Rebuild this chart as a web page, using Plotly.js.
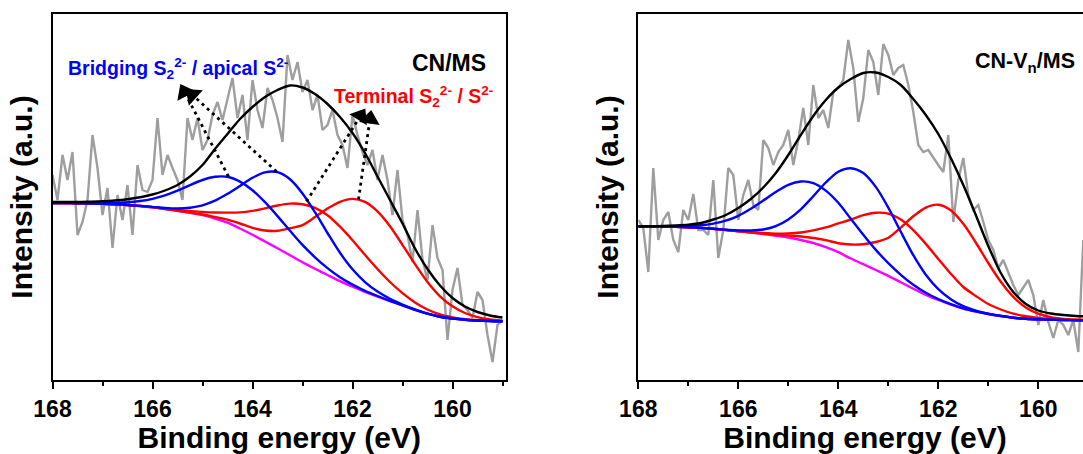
<!DOCTYPE html>
<html>
<head>
<meta charset="utf-8">
<script src="https://cdn.plot.ly/plotly-3.0.1.min.js"></script>
<style>
  html, body { margin: 0; padding: 0; background: #ffffff; overflow: hidden; }
  #chart { width: 1100px; height: 454px; }
</style>
</head>
<body>
<div id="chart"></div>
<script>
// S 2p XPS spectra: raw counts (grey), fitted components, Shirley background and envelope.

// Binding energy grids (eV)
const energyFit = [168, 167.75, 167.5, 167.25, 167, 166.75, 166.5, 166.25, 166, 165.75, 165.5, 165.25, 165,
  164.75, 164.5, 164.25, 164, 163.75, 163.5, 163.25, 163, 162.75, 162.5, 162.25, 162, 161.75, 161.5, 161.25,
  161, 160.75, 160.5, 160.25, 160, 159.75, 159.5, 159.25, 159];

const energyRaw = [168.0, 167.9, 167.8, 167.7, 167.6, 167.5, 167.4, 167.3, 167.2, 167.1, 167.0, 166.9, 166.8,
  166.7, 166.6, 166.5, 166.4, 166.3, 166.2, 166.1, 166.0, 165.9, 165.8, 165.7, 165.6, 165.5, 165.4, 165.3, 165.2,
  165.1, 165.0, 164.9, 164.8, 164.7, 164.6, 164.5, 164.4, 164.3, 164.2, 164.1, 164.0, 163.9, 163.8, 163.7, 163.6,
  163.5, 163.4, 163.3, 163.2, 163.1, 163.0, 162.9, 162.8, 162.7, 162.6, 162.5, 162.4, 162.3, 162.2, 162.1, 162.0,
  161.9, 161.8, 161.7, 161.6, 161.5, 161.4, 161.3, 161.2, 161.1, 161.0, 160.9, 160.8, 160.7, 160.6, 160.5, 160.4,
  160.3, 160.2, 160.1, 160.0, 159.9, 159.8, 159.7, 159.6, 159.5, 159.4, 159.3, 159.2, 159.1, 159.0];

// ---- CN/MS (a.u.) ----
const rawCNMS = [205, 180, 225, 200, 228, 145, 158, 180, 245, 212, 165, 192, 132, 185, 160, 195, 145, 215, 190, 188,
  200, 262, 205, 225, 212, 200, 180, 262, 240, 262, 230, 240, 265, 278, 260, 280, 302, 262, 285, 240, 300, 270,
  252, 292, 280, 262, 238, 325, 300, 318, 288, 300, 270, 285, 250, 255, 270, 245, 235, 212, 265, 245, 228, 215,
  230, 200, 225, 200, 165, 210, 160, 145, 118, 170, 120, 100, 155, 122, 110, 40, 90, 112, 75, 70, 62, 88, 80,
  45, 18, 55, 60];

const bgCNMS = [177, 177, 176.8, 176.5, 176.2, 175.7, 175, 174, 172.7, 171, 169.2, 167.3, 164.8, 161.5, 157.3,
  151.5, 145.2, 138.5, 131.7, 124.8, 117.8, 111.3, 105, 98.8, 93.3, 88.2, 83.5, 79, 74.6, 70.2, 66.3, 63.3, 61.5,
  60.3, 59.5, 59, 58.7];

const bridgeA_CNMS = [177.0, 177.0, 176.9, 176.8, 176.8, 177.1, 177.7, 179.0, 181.2, 184.6, 189.3, 194.9, 200.0,
  203.2, 203.2, 198.4, 189.8, 177.8, 163.9, 149.3, 135.1, 122.7, 111.9, 102.7, 95.4, 89.2, 84.0, 79.2, 74.7, 70.2,
  66.3, 63.3, 61.5, 60.3, 59.5, 59.0, 58.7];

const bridgeB_CNMS = [177.0, 177.0, 176.8, 176.5, 176.2, 175.7, 175.0, 174.1, 173.1, 172.0, 171.5, 172.3, 174.7,
  179.3, 186.2, 194.1, 202.2, 207.7, 207.8, 200.8, 186.6, 167.8, 147.0, 127.2, 110.7, 97.9, 88.4, 81.2, 75.5, 70.6,
  66.4, 63.3, 61.5, 60.3, 59.5, 59.0, 58.7];

const termA_CNMS = [177.0, 177.0, 176.8, 176.5, 176.2, 175.7, 175.0, 174.1, 172.9, 171.4, 170.0, 169.0, 168.1,
  167.5, 167.4, 167.6, 169.1, 171.6, 174.5, 176.4, 175.8, 172.2, 164.7, 153.3, 139.8, 125.2, 111.0, 98.0, 86.9,
  77.6, 70.5, 65.5, 62.6, 60.8, 59.7, 59.1, 58.7];

const termB_CNMS = [177.0, 177.0, 176.8, 176.5, 176.2, 175.7, 175.0, 174.0, 172.7, 171.0, 169.2, 167.4, 165.5,
  163.0, 160.3, 156.5, 152.2, 149.5, 149.2, 151.8, 154.8, 162.9, 171.5, 178.2, 181.1, 178.1, 168.6, 153.7, 135.2,
  115.8, 98.0, 83.7, 73.7, 67.0, 62.9, 60.6, 59.4];

const envCNMS = [178, 178, 178, 178.3, 178.7, 179.5, 180.8, 182.8, 185.5, 189.5, 195, 203.5, 215, 231, 246, 261,
  273, 283, 290, 294.5, 292.5, 286, 276, 263, 247, 227, 203.5, 180, 156.5, 131.5, 111, 94.5, 82, 73.5, 68, 64.5,
  62.5];

// ---- CN-Vn/MS (a.u.) ----
const rawCNVMS = [160, 152, 108, 212, 140, 160, 168, 140, 128, 170, 160, 186, 150, 150, 145, 200, 122, 150, 212,
  205, 160, 185, 200, 175, 170, 240, 232, 215, 228, 235, 250, 215, 240, 272, 235, 295, 262, 270, 252, 288, 292,
  300, 340, 312, 258, 282, 330, 318, 285, 336, 325, 305, 312, 315, 295, 268, 235, 228, 230, 222, 215, 208, 245,
  158, 200, 222, 185, 170, 175, 158, 140, 130, 112, 120, 108, 95, 85, 92, 100, 85, 55, 80, 58, 42, 60, 55, 45,
  60, 28, 140, 70];

const bgCNVMS = [153.7, 153.6, 153.4, 153.1, 152.7, 152.1, 151.2, 150.0, 148.8, 147.5, 146.0, 144.3, 142.5, 140.0,
  137.0, 132.8, 127.8, 121.5, 115.8, 110.0, 104.2, 97.8, 91.2, 85.2, 80.0, 75.5, 71.5, 68.5, 66.0, 64.0, 62.3,
  61.2, 60.6, 60.2, 60.0, 59.8, 59.7];

const bridgeA_CNVMS = [153.7, 153.7, 153.6, 153.6, 154.0, 154.7, 156.4, 159.3, 164.2, 171.2, 179.5, 188.0, 195.2,
  198.5, 196.9, 189.4, 177.2, 161.2, 145.2, 130.1, 116.9, 105.2, 95.2, 87.2, 80.9, 75.9, 71.7, 68.6, 66.0, 64.0,
  62.3, 61.2, 60.6, 60.2, 60.0, 59.8, 59.7];

const bridgeB_CNVMS = [153.7, 153.6, 153.4, 153.1, 152.7, 152.1, 151.3, 150.3, 149.6, 149.5, 150.5, 153.8, 160.5,
  170.6, 183.8, 197.5, 208.3, 211.8, 207.0, 193.1, 172.4, 148.2, 124.8, 105.3, 90.9, 80.8, 73.8, 69.4, 66.3, 64.1,
  62.3, 61.2, 60.6, 60.2, 60.0, 59.8, 59.7];

const termA_CNVMS = [153.7, 153.6, 153.4, 153.1, 152.7, 152.1, 151.2, 150.1, 149.0, 147.9, 147.0, 146.4, 146.6,
  147.5, 149.6, 152.6, 156.6, 160.5, 164.9, 167.3, 166.4, 160.4, 149.8, 136.1, 121.1, 106.3, 93.0, 84.0, 76.0,
  70.5, 66.3, 63.7, 62.1, 61.2, 60.6, 60.2, 60.0];

const termB_CNVMS = [153.7, 153.6, 153.4, 153.1, 152.7, 152.1, 151.2, 150.0, 148.8, 147.5, 146.5, 145.3, 144.5,
  143.5, 142.0, 139.8, 136.8, 135.5, 135.8, 138.0, 142.2, 152.4, 163.7, 172.4, 175.3, 169.8, 156.2, 137.5, 117.0,
  98.2, 83.1, 72.6, 66.3, 62.8, 61.1, 60.2, 59.8];

const envCNVMS = [153.5, 153.7, 154, 154.5, 155.3, 157, 160.5, 165, 172, 181, 192.5, 207, 225, 245, 264, 280,
  292.5, 301, 307, 307.5, 303, 295, 281, 265, 246, 222, 195, 165, 134, 107, 88, 76, 69.5, 66.5, 65, 64, 63.5];

// ---- styling ----
const FONT = "Arial, 'Liberation Sans', Helvetica, sans-serif";
const GREY = '#9e9e9e';
const BLUE = '#0000ff';
const RED = '#ff0000';
const MAGENTA = '#ff00ff';

function line(x, y, color, axis, shape, width) {
  return {
    x: x, y: y, type: 'scatter', mode: 'lines',
    line: { color: color, width: width || 2.4, shape: shape || 'spline', smoothing: 0.8 },
    xaxis: 'x' + axis, yaxis: 'y' + axis, hoverinfo: 'skip'
  };
}

function panelTraces(raw, bg, compBlue, compRed, env, axis) {
  const t = [line(energyRaw, raw, GREY, axis, 'linear', 2.4), line(energyFit, bg, MAGENTA, axis)];
  compRed.forEach(c => t.push(line(energyFit, c, RED, axis)));
  compBlue.forEach(c => t.push(line(energyFit, c, BLUE, axis)));
  t.push(line(energyFit, env, '#000000', axis));
  return t;
}

// dotted pointer from a component peak up to its label
function pointer(tail, head) {
  return {
    x: [tail[0], head[0]], y: [tail[1], head[1]], type: 'scatter', mode: 'lines+markers',
    line: { color: '#000000', width: 2.8, dash: '3px,4px' },
    marker: { symbol: 'triangle-up', size: [0, 18], color: '#000000', opacity: 1,
              line: { width: 0 }, angleref: 'previous' },
    xaxis: 'x', yaxis: 'y', hoverinfo: 'skip'
  };
}

const traces = []
  .concat(panelTraces(rawCNMS, bgCNMS, [bridgeA_CNMS, bridgeB_CNMS], [termA_CNMS, termB_CNMS], envCNMS, ''))
  .concat(panelTraces(rawCNVMS, bgCNVMS, [bridgeA_CNVMS, bridgeB_CNVMS], [termA_CNVMS, termB_CNVMS], envCNVMS, '2'))
  .concat([
    pointer([164.48, 203.5], [165.36, 288]),
    pointer([163.52, 208.5], [165.20, 285]),
    pointer([162.92, 178.5], [161.84, 264]),
    pointer([161.88, 180.5], [161.65, 261])
  ]);

const Y_DOMAIN = [74 / 454, 440 / 454];
const X_RANGE = [168, 158.93];

function xAxis(domain, anchor) {
  return {
    domain: domain, anchor: anchor, range: X_RANGE,
    tick0: 160, dtick: 2, ticks: 'outside', ticklen: 7, tickwidth: 2, tickcolor: '#000000',
    minor: { tick0: 159, dtick: 1, ticks: 'outside', ticklen: 4, tickwidth: 2, tickcolor: '#000000' },
    showline: true, linewidth: 2, linecolor: '#000000', mirror: true,
    showgrid: false, zeroline: false,
    tickfont: { family: FONT, size: 23, color: '#000000', weight: 'bold' },
    title: { text: 'Binding energy (eV)', font: { family: FONT, size: 30, color: '#000000', weight: 'bold' }, standoff: 5 }
  };
}

function yAxis(anchor) {
  return {
    domain: Y_DOMAIN, anchor: anchor, range: [0, 366],
    showticklabels: false, ticks: '',
    showline: true, linewidth: 2, linecolor: '#000000', mirror: true,
    showgrid: false, zeroline: false,
    title: { text: 'Intensity (a.u.)', font: { family: FONT, size: 30, color: '#000000', weight: 'bold' }, standoff: 9 }
  };
}

function label(text, x, y, axis, color, size, xanchor) {
  return {
    text: text, x: x, y: y, xref: 'x' + axis, yref: 'y' + axis,
    xanchor: xanchor, yanchor: 'middle', showarrow: false,
    font: { family: FONT, size: size, color: color, weight: 'bold' }
  };
}

const layout = {
  width: 1100, height: 454,
  margin: { l: 0, r: 0, t: 0, b: 0 },
  paper_bgcolor: '#ffffff', plot_bgcolor: '#ffffff',
  showlegend: false,
  xaxis: xAxis([52.5 / 1100, 506 / 1100], 'y'),
  yaxis: yAxis('x'),
  xaxis2: xAxis([638.3 / 1100, 1091.8 / 1100], 'y2'),
  yaxis2: yAxis('x2'),
  annotations: [
    label('Bridging S<sub>2</sub><sup>2-</sup> / apical S<sup>2-</sup>', 167.73, 312, '', BLUE, 19.5, 'left'),
    label('Terminal S<sub>2</sub><sup>2-</sup> / S<sup>2-</sup>', 162.42, 283.5, '', RED, 19.5, 'left'),
    label('CN/MS', 159.29, 317, '', '#000000', 23, 'right'),
    label('CN-V<sub>n</sub>/MS', 161.30, 318, '2', '#000000', 21.5, 'left')
  ]
};

Plotly.newPlot('chart', traces, layout, { staticPlot: true, displayModeBar: false });
</script>
</body>
</html>
